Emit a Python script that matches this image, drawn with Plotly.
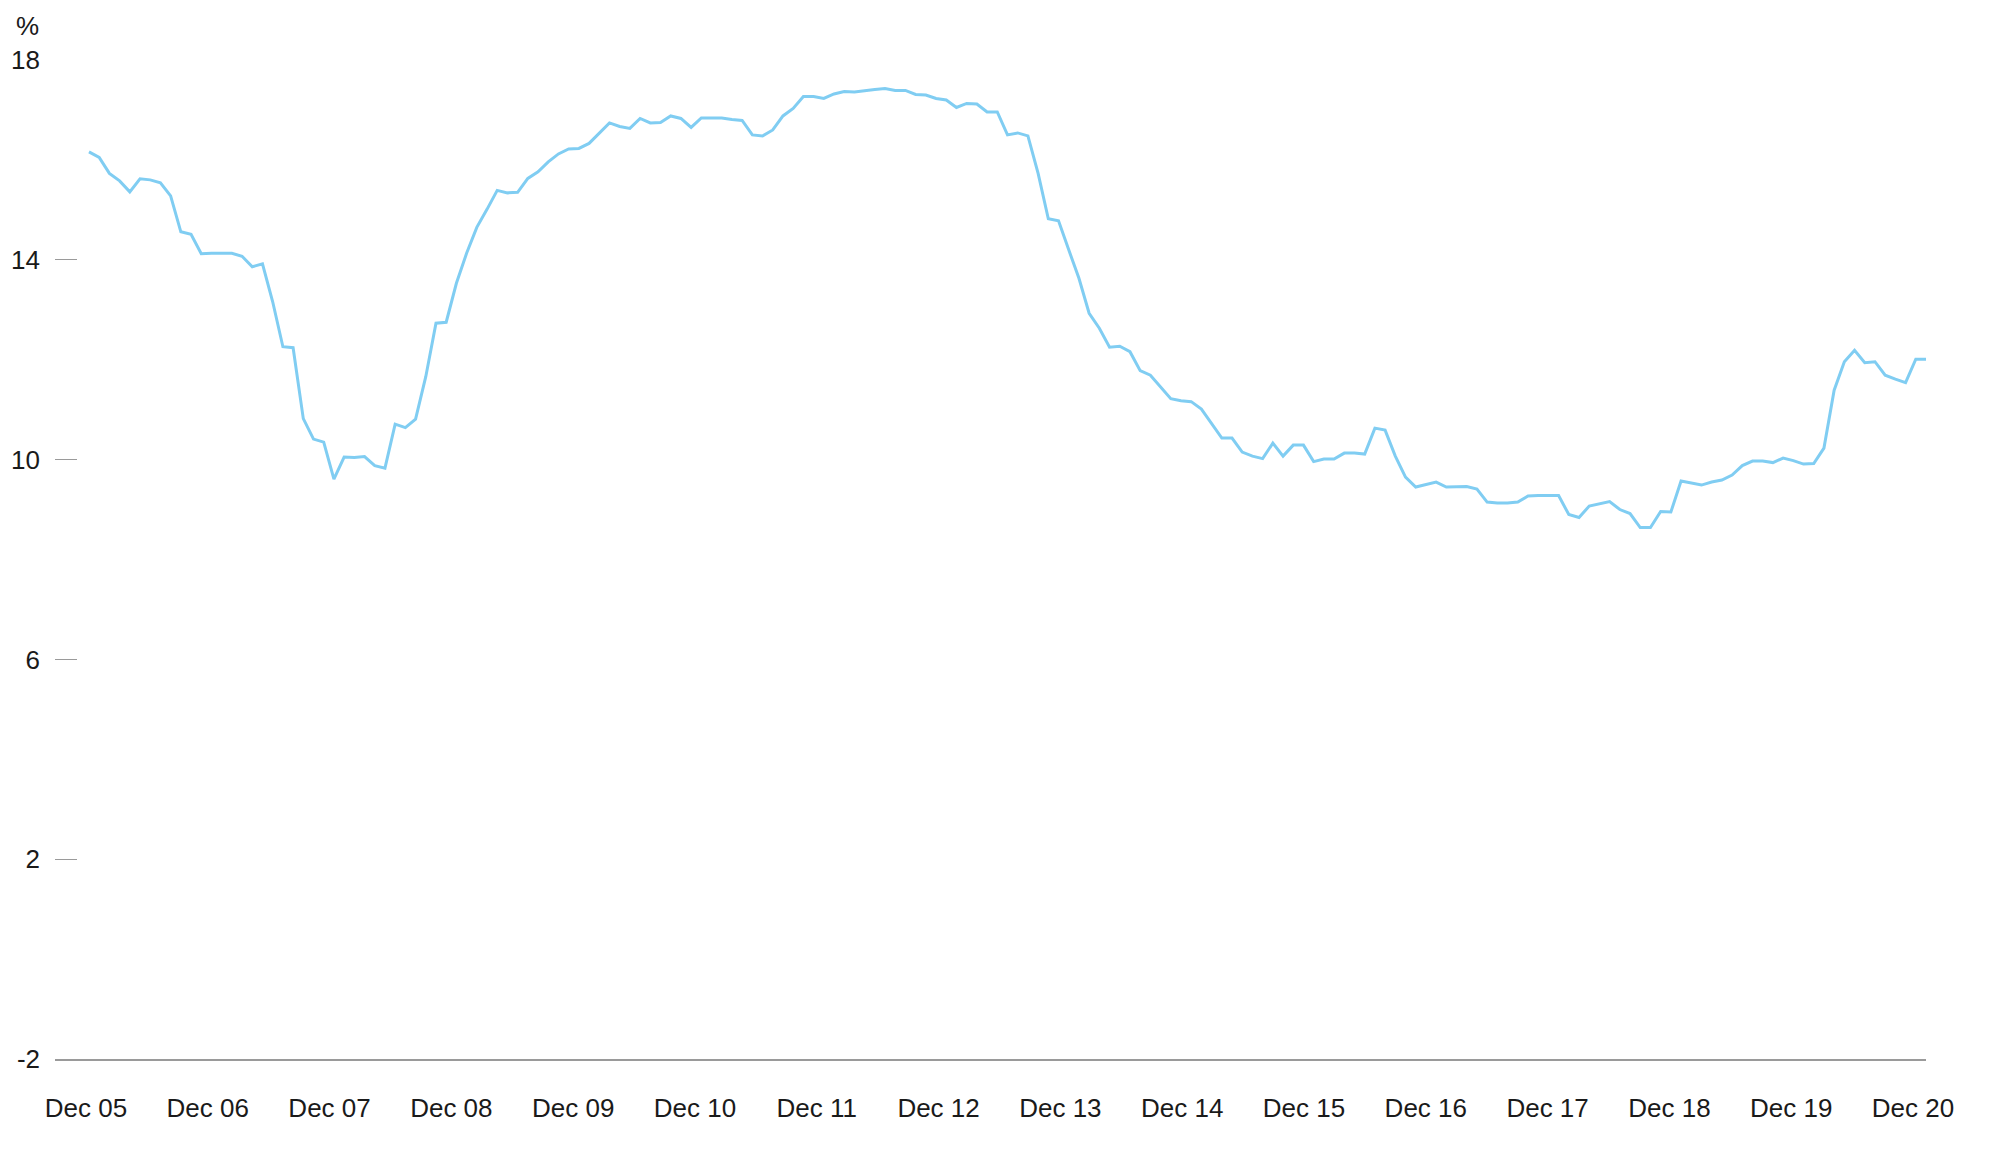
import plotly.graph_objects as go

# Monthly series, Dec 2005 .. Dec 2020 (%)
values = [
    16.16, 16.05, 15.73, 15.58, 15.36, 15.62, 15.60, 15.54, 15.28, 14.56,
    14.51, 14.12, 14.13, 14.13, 14.13, 14.07, 13.86, 13.92, 13.16, 12.26,
    12.24, 10.82, 10.41, 10.35, 9.61, 10.05, 10.04, 10.06, 9.88, 9.83,
    10.71, 10.64, 10.81, 11.66, 12.73, 12.75, 13.53, 14.13, 14.65, 15.01,
    15.39, 15.34, 15.35, 15.63, 15.76, 15.96, 16.12, 16.22, 16.23, 16.33,
    16.53, 16.74, 16.67, 16.63, 16.83, 16.74, 16.75, 16.88, 16.83, 16.65,
    16.84, 16.84, 16.84, 16.81, 16.79, 16.50, 16.48, 16.60, 16.88, 17.03,
    17.27, 17.27, 17.23, 17.32, 17.37, 17.36, 17.39, 17.41, 17.43, 17.39,
    17.39, 17.31, 17.30, 17.23, 17.20, 17.05, 17.13, 17.12, 16.96, 16.96,
    16.50, 16.54, 16.48, 15.73, 14.82, 14.78, 14.20, 13.63, 12.93, 12.63,
    12.25, 12.27, 12.16, 11.78, 11.69, 11.46, 11.22, 11.18, 11.16, 11.01,
    10.73, 10.43, 10.43, 10.15, 10.07, 10.02, 10.33, 10.07, 10.29, 10.29,
    9.96, 10.01, 10.01, 10.13, 10.13, 10.11, 10.63, 10.59, 10.07, 9.65,
    9.45, 9.50, 9.55, 9.45, 9.46, 9.46, 9.41, 9.15, 9.13, 9.13,
    9.15, 9.27, 9.28, 9.28, 9.28, 8.90, 8.84, 9.07, 9.11, 9.16,
    9.00, 8.92, 8.64, 8.64, 8.96, 8.95, 9.57, 9.53, 9.49, 9.55,
    9.59, 9.69, 9.88, 9.97, 9.97, 9.94, 10.03, 9.98, 9.91, 9.92,
    10.23, 11.39, 11.96, 12.19, 11.94, 11.96, 11.69, 11.61, 11.54, 12.01,
    12.01,
]
x_labels = ["Dec 05", "Dec 06", "Dec 07", "Dec 08", "Dec 09", "Dec 10", "Dec 11",
            "Dec 12", "Dec 13", "Dec 14", "Dec 15", "Dec 16", "Dec 17", "Dec 18",
            "Dec 19", "Dec 20"]
y_ticks = [-2, 2, 6, 10, 14, 18]
y_tick_labels = ["-2", "2", "6", "10", "14", "18"]

months = list(range(len(values)))
# label positions (the original spaces its year labels slightly tighter than the data)
label_pos = [12 * k * 0.9946 - 0.3 for k in range(len(x_labels))]

font_family = "Liberation Sans, Arial, Helvetica, sans-serif"
text_color = "#1a1a1a"
fsize = 26

W, H = 1984, 1146  # page body has an 8px margin
fig = go.Figure()
fig.add_trace(go.Scatter(
    x=months, y=values, mode="lines",
    line=dict(color="#80cdf2", width=3),
    hoverinfo="skip", showlegend=False,
))

fig.update_layout(
    width=W, height=H,
    margin=dict(l=47, r=66, t=52, b=95),
    paper_bgcolor="white", plot_bgcolor="white",
    font=dict(family=font_family, size=fsize, color=text_color),
    xaxis=dict(
        range=[-3.33, 180], tickmode="array", tickvals=label_pos, ticktext=x_labels,
        showgrid=False, zeroline=False, showline=True, linecolor="#9a9a9a", linewidth=1.5,
        ticks="", ticklabelstandoff=25, automargin=False,
        tickfont=dict(size=fsize, color=text_color),
    ),
    yaxis=dict(
        range=[-2, 18], tickmode="array", tickvals=y_ticks, ticktext=y_tick_labels,
        showgrid=False, zeroline=False, showline=False,
        ticks="inside", ticklen=22, tickwidth=1.2, tickcolor="#9a9a9a",
        ticklabelstandoff=14, automargin=False,
        tickfont=dict(size=fsize, color=text_color),
    ),
    annotations=[dict(
        text="%", xref="paper", yref="paper", x=0, y=1 + 51 / 999,
        xanchor="left", yanchor="top", showarrow=False, xshift=-41,
        font=dict(size=fsize, color=text_color),
    )],
)

fig.write_html("out.html")
